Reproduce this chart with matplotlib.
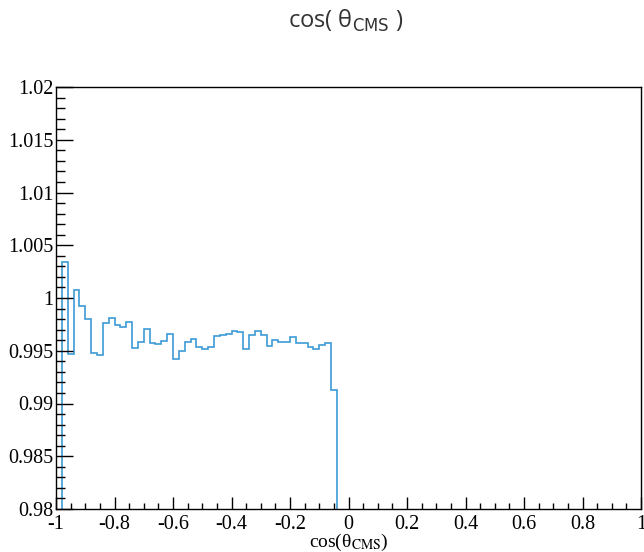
import numpy as np
import matplotlib
matplotlib.use("Agg")
import matplotlib.pyplot as plt
from matplotlib.ticker import MultipleLocator

# ratio per bin, bins of width 0.02 starting at cos = -0.98
bin_lo = -0.98
bin_w = 0.02
ratio = [1.00344, 0.99466, 1.00076, 0.99924, 0.99798, 0.99476, 0.99457, 0.99760,
         0.99808, 0.99741, 0.99728, 0.99775, 0.99523, 0.99583, 0.99703, 0.99571,
         0.99561, 0.99595, 0.99659, 0.99425, 0.99498, 0.99586, 0.99614, 0.99533,
         0.99517, 0.99533, 0.99640, 0.99652, 0.99659, 0.99684, 0.99678, 0.99520,
         0.99649, 0.99684, 0.99652, 0.99545, 0.99605, 0.99580, 0.99580, 0.99627,
         0.99570, 0.99570, 0.99539, 0.99520, 0.99552, 0.99577, 0.99128]

xticks = [-1, -0.8, -0.6, -0.4, -0.2, 0, 0.2, 0.4, 0.6, 0.8, 1]
xlabels = ["-1", "-0.8", "-0.6", "-0.4", "-0.2", "0", "0.2", "0.4", "0.6", "0.8", "1"]
yticks = [0.98, 0.985, 0.99, 0.995, 1.0, 1.005, 1.01, 1.015, 1.02]
ylabels = ["0.98", "0.985", "0.99", "0.995", "1", "1.005", "1.01", "1.015", "1.02"]

edges = bin_lo + bin_w * np.arange(len(ratio) + 1)

fig = plt.figure(figsize=(6.44, 5.52), dpi=100)
ax = fig.add_axes([56/644, 1-509/552, 585/644, 422/552])

ax.stairs(ratio, edges, baseline=0, color="#3d9bd6", lw=1.2)

ax.set_xlim(-1, 1)
ax.set_ylim(0.98, 1.02)
ax.set_xticks(xticks)
ax.set_xticklabels(xlabels)
ax.set_yticks(yticks)
ax.set_yticklabels(ylabels)
ax.xaxis.set_minor_locator(MultipleLocator(0.05))
ax.yaxis.set_minor_locator(MultipleLocator(0.001))

ax.tick_params(which="both", direction="in", top=False, right=False, color="black", width=1)
ax.tick_params(axis="x", which="major", length=9, pad=4)
ax.tick_params(axis="x", which="minor", length=4.5)
ax.tick_params(axis="y", which="major", length=12.5, pad=2)
ax.tick_params(axis="y", which="minor", length=6.5)
for lab in ax.get_xticklabels() + ax.get_yticklabels():
    lab.set_fontfamily("Liberation Serif")
    lab.set_fontsize(14.5)

for sp in ax.spines.values():
    sp.set_linewidth(1)
    sp.set_color("black")

ax.set_xlabel(r"cos(θ$_{\mathrm{CMS}}$)", fontfamily="Liberation Serif",
              fontsize=14, math_fontfamily="stix", labelpad=-1)

fig.text(0.536, 0.962, r"cos( θ$_{\mathsf{CMS}}$ )", ha="center", va="center",
         fontfamily="Open Sans", fontsize=17, color="#333333", math_fontfamily="dejavusans")

fig.savefig("out.png", dpi=100)
